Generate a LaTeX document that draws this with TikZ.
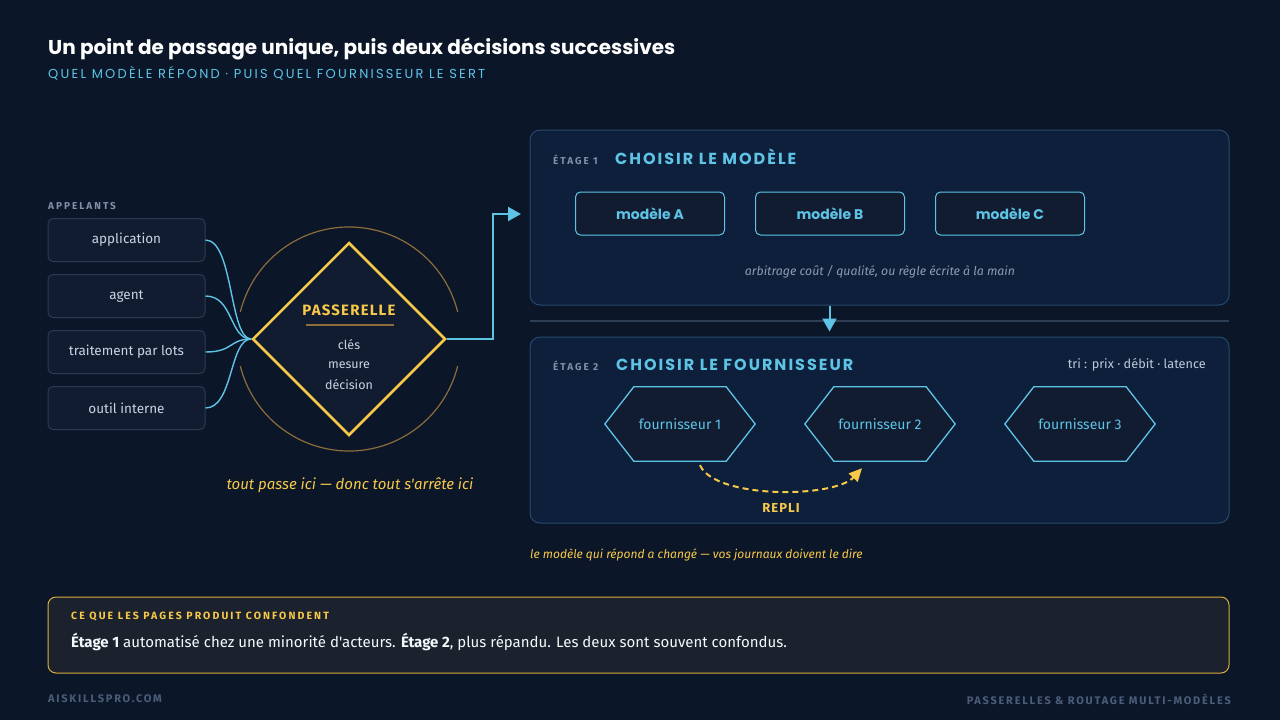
\documentclass[tikz,border=0pt]{standalone}
\usepackage{fontspec}
\setmainfont{Fira Sans}[Ligatures=TeXOff]
\newfontfamily\trackfont[LetterSpace=8]{Fira Sans}
\newfontfamily\trackwide[LetterSpace=20]{Fira Sans}
\newfontfamily\footfont[LetterSpace=16]{Fira Sans}
\newfontfamily\headfont{Poppins}
\newfontfamily\headtrack[LetterSpace=12.5]{Poppins}
\newfontfamily\subtrack[LetterSpace=17]{Poppins}
\usetikzlibrary{shapes.geometric,arrows.meta,positioning}

\definecolor{bgc}{HTML}{0B1628}
\definecolor{callerfill}{HTML}{111C31}
\definecolor{callerline}{HTML}{2C3A52}
\definecolor{stagefill}{HTML}{0E1F3B}
\definecolor{stageline}{HTML}{274A6B}
\definecolor{cyanc}{HTML}{5EC4E6}
\definecolor{yellowc}{HTML}{F7C948}
\definecolor{arcgold}{HTML}{8C6D3B}
\definecolor{softtext}{HTML}{C8D4E4}
\definecolor{labelgray}{HTML}{7F90A8}
\definecolor{notegray}{HTML}{8D9BB0}
\definecolor{notefill}{HTML}{1B222D}
\definecolor{notelines}{HTML}{D9AD3A}
\definecolor{footgray}{HTML}{4B5D78}
\definecolor{sepline}{HTML}{2E3E55}

\newcommand{\fsz}[1]{\fontsize{#1}{#1}\selectfont}

\tikzset{
  caller/.style={draw=callerline, fill=callerfill, rounded corners=5pt, line width=1pt,
    minimum width=157pt, minimum height=43pt, text=softtext, font=\fsz{13.5}},
  feed/.style={draw=cyanc, line width=1.4pt},
  gateway/.style={diamond, aspect=1, draw=yellowc, fill=callerfill, line width=2.5pt,
    minimum width=193pt, minimum height=193pt, inner sep=0pt},
  halo/.style={draw=arcgold, line width=1.2pt},
  stage/.style={draw=stageline, fill=stagefill, rounded corners=10pt, line width=1pt,
    minimum width=699pt},
  etage/.style={anchor=west, inner sep=0, text=labelgray, font=\trackwide\fsz{10}\bfseries},
  stagetitle/.style={anchor=base west, inner sep=0, text=cyanc, font=\headtrack\fsz{16}\bfseries},
  modelbox/.style={draw=cyanc, fill=callerfill, rounded corners=5pt, line width=1pt,
    minimum width=149pt, minimum height=43pt, text=cyanc, font=\headfont\fsz{14}\bfseries},
  hexline/.style={draw=cyanc, fill=callerfill, line width=1.3pt},
  flow/.style={draw=cyanc, line width=2pt, -{Triangle[length=13pt,width=14pt]}},
  fallback/.style={draw=yellowc, line width=2pt, dash pattern=on 6pt off 4pt,
    -{Triangle[length=13pt,width=12pt]}},
}

\begin{document}
\begin{tikzpicture}[x=1pt,y=-1pt]
\fill[bgc] (0,0) rectangle (1280,720);
\useasboundingbox (0,0) rectangle (1280,720);

% titre
\node[anchor=base west, text=white, font=\headfont\fsz{20}\bfseries, inner sep=0] (title) at (48,54)
  {Un point de passage unique, puis deux décisions successives};
\node[anchor=base west, text=cyanc, font=\subtrack\fsz{13}, inner sep=0] (subtitle) at (48,78)
  {QUEL MODÈLE RÉPOND · PUIS QUEL FOURNISSEUR LE SERT};

% appelants
\node[anchor=base west, text=labelgray, font=\trackwide\fsz{10}\bfseries, inner sep=0] (callers) at (48,209) {APPELANTS};
\foreach \i/\y/\t in {1/240/application, 2/296/agent, 3/352/traitement par lots, 4/408/outil interne}
  \node[caller] (c\i) at (126.5,\y) {\t};

% passerelle
\node[gateway] (gw) at (349,339) {};
\draw[halo] (gw.center) ++(14:112) arc[start angle=14, end angle=166, radius=112];
\draw[halo] (gw.center) ++(194:112) arc[start angle=194, end angle=346, radius=112];
\foreach \i in {1,...,4}
  \draw[feed] (c\i.east) .. controls +(28,0) and +(-22,0) .. (gw.west);
\node[text=yellowc, font=\trackfont\fsz{15}\bfseries] (gwname) at (349,310) {PASSERELLE};
\draw[arcgold, line width=1.5pt] (306,325) -- (394,325);
\node[text=softtext, font=\fsz{12.5}] (k1) at (349,345) {clés};
\node[text=softtext, font=\fsz{12.5}] (k2) at (349,365) {mesure};
\node[text=softtext, font=\fsz{12.5}] (k3) at (349,385) {décision};
\node[text=yellowc, font=\fsz{15}\itshape] (gwnote) at (350,485) {tout passe ici — donc tout s'arrête ici};

% etage 1
\node[stage, minimum height=175pt] (s1) at (879.5,217.5) {};
\node[etage] (e1) at (553,160) {ÉTAGE 1};
\node[stagetitle] (t1) at (615,164) {CHOISIR LE MODÈLE};
\foreach \i/\x/\t in {1/650/A, 2/830/B, 3/1010/C}
  \node[modelbox] (m\i) at (\x,213.5) {modèle \t};
\node[text=notegray, font=\fsz{12.3}\itshape] (arb) at (880,272) {arbitrage coût / qualité, ou règle écrite à la main};

\coordinate (s1in) at (521,214);
\draw[flow] (gw.east) -- ++(46,0) |- (s1in);

% separation
\draw[sepline, line width=1.5pt] (530,321) -- (1229,321);

% etage 2
\node[stage, minimum height=186pt] (s2) at (879.5,430) {};
\draw[flow, shorten >=5pt] ([xshift=-50pt]s1.south) -- ([xshift=-50pt]s2.north);
\node[etage] (e2) at (553,366) {ÉTAGE 2};
\node[stagetitle] (t2) at (616,370) {CHOISIR LE FOURNISSEUR};
\node[anchor=east, inner sep=0, text=softtext!85!labelgray, font=\fsz{12.7}] (tri) at (1206,365) {tri : prix · débit · latence};
\foreach \i/\x in {1/680, 2/880, 3/1080} {
  \path node[minimum width=150pt, minimum height=74pt, inner sep=0] (f\i) at (\x,424) {};
  \draw[hexline] ([xshift=29pt]f\i.north west) -- ([xshift=-29pt]f\i.north east) -- (f\i.east)
    -- ([xshift=-29pt]f\i.south east) -- ([xshift=29pt]f\i.south west) -- (f\i.west) -- cycle;
  \node[text=cyanc, font=\fsz{14}] at (f\i) {fournisseur \i};
}
\draw[fallback] ([xshift=20pt,yshift=-4pt]f1.south) .. controls +(15,34) and +(-28,30) .. ([xshift=-18pt,yshift=-7pt]f2.south);
\node[text=yellowc, font=\trackfont\fsz{13}\bfseries] (repli) at (781,508) {REPLI};
\node[anchor=west, text=yellowc, font=\fsz{12}\itshape, inner sep=0] (logs) at (530,555)
  {le modèle qui répond a changé — vos journaux doivent le dire};

% encadre
\node[draw=notelines, fill=notefill, rounded corners=8pt, line width=1pt,
  minimum width=1181pt, minimum height=76pt] (note) at (638.5,635) {};
\node[anchor=west, text=yellowc, font=\trackwide\fsz{10.5}\bfseries, inner sep=0] (notehead) at (71,617)
  {CE QUE LES PAGES PRODUIT CONFONDENT};
\node[anchor=west, text=white!92!cyanc, font=\fsz{15}, inner sep=0] (notebody) at (71,642)
  {\textbf{Étage 1} automatisé chez une minorité d'acteurs. \textbf{Étage 2}, plus répandu. Les deux sont souvent confondus.};

% pied
\node[anchor=west, text=footgray, font=\footfont\fsz{11}\bfseries, inner sep=0] (foot1) at (48,699) {AISKILLSPRO.COM};
\node[anchor=east, text=footgray, font=\footfont\fsz{11}\bfseries, inner sep=0] (foot2) at (1231,699) {PASSERELLES \& ROUTAGE MULTI-MODÈLES};
\end{tikzpicture}
\end{document}
